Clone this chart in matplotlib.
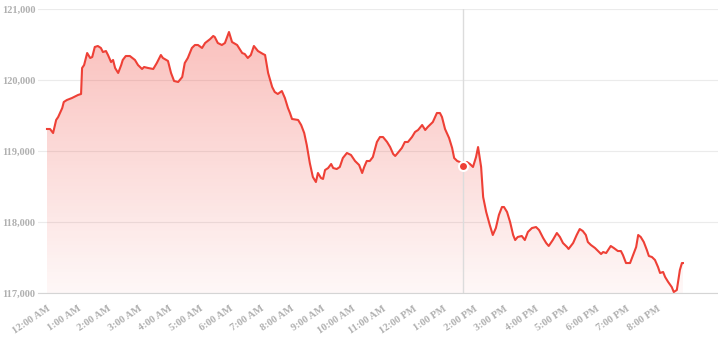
import numpy as np
import matplotlib.pyplot as plt
from matplotlib.ticker import FuncFormatter

# minutes after midnight and price at each sample
minutes = [0, 6, 12, 18, 22, 30, 33, 39, 49, 61, 67, 69, 73, 79, 85, 89, 94, 100,
           106, 110, 116, 120, 126, 130, 134, 140, 146, 149, 155, 163, 173, 179,
           187, 191, 199, 209, 216, 224, 228, 238, 244, 250, 258, 266, 271, 277,
           285, 291, 297, 305, 311, 321, 327, 330, 336, 344, 350, 358, 364, 374,
           384, 389, 395, 401, 407, 415, 425, 429, 435, 443, 448, 454, 462, 468,
           474, 478, 482, 494, 500, 506, 511, 517, 523, 529, 533, 539, 543, 547,
           553, 559, 563, 570, 576, 582, 590, 598, 606, 614, 620, 624, 629, 635,
           641, 649, 655, 661, 669, 675, 681, 685, 690, 698, 704, 710, 718, 724,
           730, 738, 744, 749, 759, 767, 773, 777, 783, 791, 797, 801, 807, 812,
           818, 826, 832, 838, 844, 848, 854, 858, 864, 871, 877, 883, 889, 895,
           899, 905, 911, 917, 921, 926, 934, 940, 946, 954, 962, 968, 976, 982,
           987, 995, 1003, 1009, 1015, 1023, 1026, 1035, 1042, 1048, 1054, 1060,
           1064, 1070, 1078, 1084, 1090, 1094, 1100, 1104, 1109, 1115, 1123, 1129,
           1133, 1139, 1147, 1153, 1159, 1163, 1168, 1174, 1180, 1184, 1190, 1196,
           1202, 1206, 1212, 1216, 1222, 1229, 1233, 1239, 1245, 1249, 1251]
prices = [119310, 119310, 119253, 119437, 119479, 119606, 119690, 119718, 119746,
          119789, 119803, 120169, 120211, 120380, 120310, 120324, 120465, 120479,
          120451, 120394, 120408, 120352, 120253, 120282, 120169, 120099, 120211,
          120282, 120338, 120338, 120282, 120211, 120155, 120183, 120169, 120155,
          120239, 120352, 120310, 120268, 120099, 119986, 119972, 120042, 120239,
          120310, 120451, 120493, 120493, 120451, 120521, 120577, 120620, 120606,
          120521, 120493, 120521, 120676, 120535, 120493, 120380, 120366, 120310,
          120352, 120479, 120408, 120366, 120352, 120099, 119901, 119831, 119803,
          119845, 119746, 119606, 119535, 119451, 119437, 119366, 119253, 119084,
          118831, 118634, 118563, 118690, 118620, 118606, 118732, 118760, 118817,
          118760, 118746, 118775, 118901, 118972, 118944, 118859, 118803, 118690,
          118775, 118859, 118859, 118915, 119127, 119197, 119197, 119127, 119056,
          118958, 118930, 118972, 119042, 119127, 119127, 119197, 119268, 119296,
          119366, 119296, 119338, 119408, 119535, 119535, 119479, 119310, 119183,
          119042, 118901, 118859, 118845, 118782, 118845, 118817, 118775, 118915,
          119056, 118775, 118352, 118141, 117958, 117817, 117915, 118099, 118211,
          118211, 118141, 118000, 117817, 117746, 117789, 117803, 117746, 117859,
          117915, 117929, 117887, 117775, 117704, 117662, 117746, 117845, 117789,
          117704, 117648, 117620, 117704, 117817, 117901, 117873, 117817, 117718,
          117676, 117634, 117591, 117549, 117577, 117563, 117606, 117662, 117634,
          117591, 117591, 117535, 117422, 117422, 117535, 117648, 117817, 117789,
          117718, 117606, 117521, 117507, 117465, 117366, 117282, 117296, 117225,
          117155, 117084, 117014, 117042, 117324, 117422, 117422]

hover_minute = 818
hover_price = 118782

hour_labels = ['12:00 AM', '1:00 AM', '2:00 AM', '3:00 AM', '4:00 AM', '5:00 AM',
               '6:00 AM', '7:00 AM', '8:00 AM', '9:00 AM', '10:00 AM', '11:00 AM',
               '12:00 PM', '1:00 PM', '2:00 PM', '3:00 PM', '4:00 PM', '5:00 PM',
               '6:00 PM', '7:00 PM', '8:00 PM']
y_ticks = [117000, 118000, 119000, 120000, 121000]

red = '#ee4036'
label_color = '#b0b0b0'
y_lo, y_hi = 117000, 121000

hours = np.array(minutes) / 60.0
vals = np.array(prices)

fig = plt.figure(figsize=(7.18, 3.4), dpi=100)
ax = fig.add_axes([38 / 718, 47 / 340, 680 / 718, 284 / 340])
x_lo, x_hi = -0.295, 22.0
ax.set_xlim(x_lo, x_hi)
ax.set_ylim(y_lo, y_hi)

# gradient fill under the line, clipped to the area polygon
poly = ax.fill_between(hours, vals, y_lo, color='none', lw=0)
alpha = np.linspace(0.04, 0.36, 256).reshape(-1, 1)
rgba = np.zeros((256, 1, 4))
rgba[..., 0] = 0.94
rgba[..., 1] = 0.27
rgba[..., 2] = 0.23
rgba[..., 3] = alpha
img = ax.imshow(rgba, extent=[x_lo, x_hi, y_lo, y_hi], origin='lower',
                aspect='auto', zorder=1, interpolation='bilinear')
img.set_clip_path(poly.get_paths()[0], transform=ax.transData)

ax.plot(hours, vals, color=red, lw=1.5, zorder=3, solid_joinstyle='round')

# hover crosshair and point
ax.axvline(hover_minute / 60.0, color='#dcdcdc', lw=1, zorder=2)
ax.plot([hover_minute / 60.0], [hover_price], 'o', color=red, ms=6.5,
        mec='white', mew=1.5, zorder=4)

ax.set_yticks(y_ticks)
ax.yaxis.set_major_formatter(FuncFormatter(lambda v, p: '{:,.0f}'.format(v)))
ax.set_xticks(range(len(hour_labels)))
ax.set_xticklabels(hour_labels, rotation=34, ha='right', rotation_mode='anchor')

ax.grid(axis='y', color='#ebebeb', lw=0.8, zorder=0)
ax.set_axisbelow(True)
for side in ['top', 'right', 'left']:
    ax.spines[side].set_visible(False)
ax.spines['bottom'].set_color('#d5d5d5')
ax.spines['bottom'].set_linewidth(0.8)

ax.tick_params(axis='both', length=0, labelcolor=label_color, labelsize=7.5)
ax.tick_params(axis='y', pad=2)
ax.tick_params(axis='x', pad=8)
for lab in ax.get_xticklabels() + ax.get_yticklabels():
    lab.set_fontfamily('Liberation Serif')
    lab.set_fontweight('bold')

fig.savefig('out.png', dpi=100)
